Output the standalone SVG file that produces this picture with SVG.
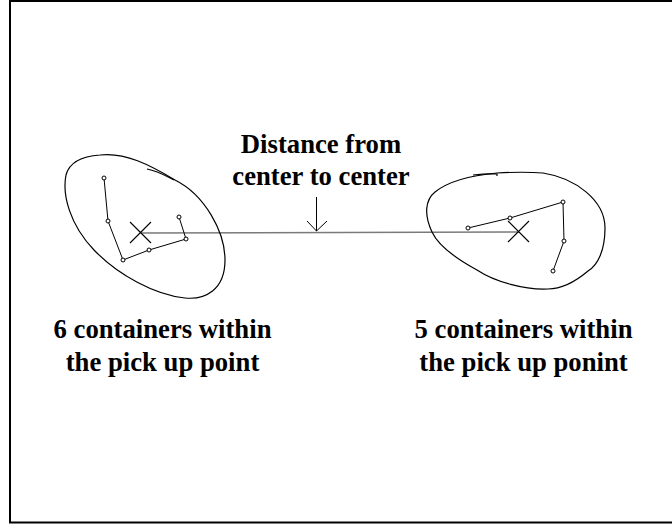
<svg xmlns="http://www.w3.org/2000/svg" width="672" height="524" viewBox="0 0 672 524">
  <defs>
    <style>
      .frame { fill: #ffffff; stroke: #000000; stroke-width: 2; }
      .loop { fill: none; stroke: #000000; stroke-width: 1.2; }
      .route { fill: none; stroke: #000000; stroke-width: 1; }
      .stop { fill: #ffffff; stroke: #000000; stroke-width: 1; }
      .cross { fill: none; stroke: #000000; stroke-width: 1.1; }
      .link { fill: none; stroke: #7a7a7a; stroke-width: 1.6; }
      .pointer { fill: none; stroke: #000000; stroke-width: 1; }
      .label { font-family: "Liberation Serif", "Times New Roman", serif; font-weight: bold; font-size: 26.7px; fill: #000000; text-anchor: middle; }
    </style>
  </defs>

  <!-- page frame; its right side runs past the edge of the canvas -->
  <rect class="frame" x="10" y="1" width="666" height="521.5"/>

  <!-- distance between the two centres -->
  <g id="connectors">
    <line class="link" x1="141" y1="233" x2="519" y2="232"/>
    <line class="pointer" x1="316.5" y1="197" x2="316.5" y2="231"/>
    <polyline class="pointer" points="307,221 316.5,231 327,221"/>
  </g>

  <!-- left pick up point -->
  <g id="cluster-left">
    <path class="loop" d="M 100 155 C 125 152, 150 165, 175 180 C 205 195, 225 232, 225 260 C 225 290, 205 300, 185 298 C 155 295, 118 275, 94 250 C 70 225, 62 195, 66 175 C 70 160, 85 156, 100 155 Z"/>
    <path class="loop" d="M 147 169 C 158 171, 166 176, 174 180"/>
    <polyline class="route" points="104,178 108,221 123,260 149,250 186,239 179,217"/>
    <circle class="stop" cx="104" cy="178" r="2"/>
    <circle class="stop" cx="108" cy="221" r="2"/>
    <circle class="stop" cx="123" cy="260" r="2"/>
    <circle class="stop" cx="149" cy="250" r="2"/>
    <circle class="stop" cx="186" cy="239" r="2"/>
    <circle class="stop" cx="179" cy="217" r="2"/>
    <path class="cross" d="M 130 222 L 151 243 M 151 222 L 130 243"/>
  </g>

  <!-- right pick up point -->
  <g id="cluster-right">
    <path class="loop" d="M 497 173 C 515 172, 530 172, 543 173 C 575 178, 605 200, 605 228 C 605 250, 598 265, 588 271 C 575 282, 562 289, 548 289 C 525 290, 495 282, 477 270 C 455 258, 438 245, 432 232 C 424 215, 425 200, 435 192 C 450 180, 475 175, 497 173 Z"/>
    <path class="loop" d="M 473 175 C 482 174, 490 173.5, 497 174 L 497 176"/>
    <polyline class="route" points="468,228 510,218 563,202 564,241 553,271"/>
    <circle class="stop" cx="468" cy="228" r="2"/>
    <circle class="stop" cx="510" cy="218" r="2"/>
    <circle class="stop" cx="563" cy="202" r="2"/>
    <circle class="stop" cx="564" cy="241" r="2"/>
    <circle class="stop" cx="553" cy="271" r="2"/>
    <path class="cross" d="M 508 221 L 529 242 M 529 221 L 508 242"/>
  </g>

  <g id="label-distance">
    <text class="label" x="321" y="153">Distance from</text>
    <text class="label" x="321" y="185">center to center</text>
  </g>

  <g id="label-left">
    <text class="label" x="162.5" y="338">6 containers within</text>
    <text class="label" x="162.5" y="371">the pick up point</text>
  </g>

  <g id="label-right">
    <text class="label" x="523.5" y="338">5 containers within</text>
    <text class="label" x="523.5" y="371">the pick up ponint</text>
  </g>
</svg>
